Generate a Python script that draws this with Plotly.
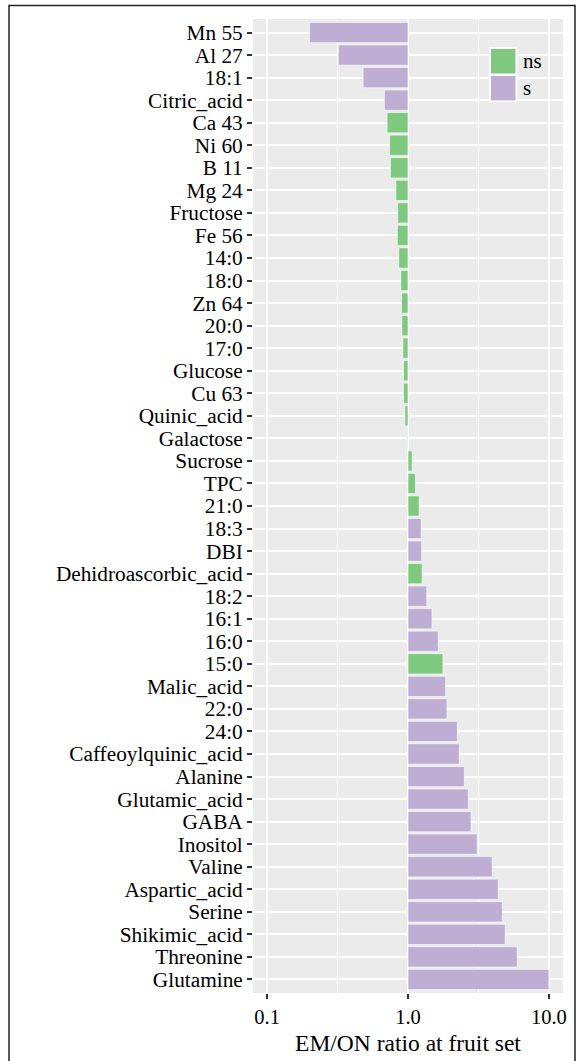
import plotly.graph_objects as go

categories = ["Mn 55", "Al 27", "18:1", "Citric_acid", "Ca 43", "Ni 60", "B 11", "Mg 24",
              "Fructose", "Fe 56", "14:0", "18:0", "Zn 64", "20:0", "17:0", "Glucose",
              "Cu 63", "Quinic_acid", "Galactose", "Sucrose", "TPC", "21:0", "18:3", "DBI",
              "Dehidroascorbic_acid", "18:2", "16:1", "16:0", "15:0", "Malic_acid", "22:0",
              "24:0", "Caffeoylquinic_acid", "Alanine", "Glutamic_acid", "GABA", "Inositol",
              "Valine", "Aspartic_acid", "Serine", "Shikimic_acid", "Threonine", "Glutamine"]
ratios = [0.20, 0.32, 0.48, 0.68, 0.71, 0.74, 0.75, 0.82,
          0.845, 0.84, 0.86, 0.89, 0.90, 0.905, 0.92, 0.93,
          0.93, 0.95, 0.99, 1.07, 1.13, 1.20, 1.24, 1.25,
          1.26, 1.36, 1.48, 1.64, 1.77, 1.85, 1.89,
          2.24, 2.31, 2.51, 2.68, 2.80, 3.10,
          3.96, 4.37, 4.67, 4.90, 5.96, 10.0]
signif = ["s", "s", "s", "s", "ns", "ns", "ns", "ns",
          "ns", "ns", "ns", "ns", "ns", "ns", "ns", "ns",
          "ns", "ns", "ns", "ns", "ns", "ns", "s", "s",
          "ns", "s", "s", "s", "ns", "s", "s",
          "s", "s", "s", "s", "s", "s",
          "s", "s", "s", "s", "s", "s"]
groups = ["ns", "s"]
group_colors = ["#7FC97F", "#BEAED4"]
x_ticks = [0.1, 1, 10]
x_ticktext = ["0.1", "1.0", "10.0"]
x_title = "EM/ON ratio at fruit set"

W, H = 576, 1061
L, R, T, B = 253, 13, 18.5, 67.5
pw, ph = W - L - R, H - T - B


def px(x):
    return (x - L) / pw


def py(y):
    return 1 - (y - T) / ph


FONT = "Liberation Serif"

fig = go.Figure()
for g, col in zip(groups, group_colors):
    ys = [c for c, s in zip(categories, signif) if s == g]
    xs = [r - 1 for r, s in zip(ratios, signif) if s == g]
    fig.add_trace(go.Bar(
        y=ys, x=xs, base=1, orientation="h", name=g, width=0.9,
        marker=dict(color=col, line=dict(color="white", width=0.6)),
        showlegend=False,
    ))

n = len(categories)
fig.update_layout(
    width=W, height=H,
    margin=dict(l=L, r=R, t=T, b=B, pad=0),
    paper_bgcolor="white", plot_bgcolor="#EBEBEB",
    barmode="overlay",
    font=dict(family=FONT, color="black", size=21),
    xaxis=dict(
        type="log", range=[-1.1, 1.1], automargin=False,
        tickmode="array", tickvals=x_ticks, ticktext=x_ticktext,
        ticks="outside", ticklen=5, tickwidth=1.5, tickcolor="#333333",
        tickfont=dict(size=20.5, color="black"),
        showgrid=True, gridcolor="white", gridwidth=1.6,
        minor=dict(tickvals=[10 ** -0.5, 10 ** 0.5], showgrid=True,
                   gridcolor="white", gridwidth=0.8, ticks=""),
        zeroline=False, showline=False,
        title=dict(text=x_title, font=dict(size=23.5, color="black"), standoff=7),
    ),
    yaxis=dict(
        type="category", categoryorder="array", categoryarray=categories,
        tickmode="array", tickvals=categories, ticktext=categories,
        range=[n - 1 + 0.6, -0.6], automargin=False,
        ticks="outside", ticklen=5, tickwidth=1.5, tickcolor="#333333",
        tickfont=dict(size=21.3, color="black"),
        showgrid=True, gridcolor="white", gridwidth=1.6,
        zeroline=False, showline=False,
    ),
)

shapes = [
    # outer border
    dict(type="rect", xref="paper", yref="paper",
         x0=px(9), x1=px(575), y0=py(1075), y1=py(5),
         line=dict(color="#222222", width=1.5), fillcolor="rgba(0,0,0,0)", layer="below"),
    # legend key frame
    dict(type="rect", xref="paper", yref="paper",
         x0=px(489), x1=px(517.5), y0=py(101.5), y1=py(46.5),
         line=dict(width=0), fillcolor="white", layer="above"),
]
key_tops = [48.5, 75.5]
for (g, col), top in zip(zip(groups, group_colors), key_tops):
    shapes.append(dict(type="rect", xref="paper", yref="paper",
                       x0=px(491), x1=px(515.5), y0=py(top + 24.5), y1=py(top),
                       line=dict(width=0), fillcolor=col, layer="above"))
fig.update_layout(shapes=shapes)

annots = []
for g, top in zip(groups, key_tops):
    annots.append(dict(text=g, xref="paper", yref="paper", x=px(520.5), y=py(top + 12),
                       xanchor="left", yanchor="middle", showarrow=False,
                       font=dict(size=21, family=FONT, color="black")))
fig.update_layout(annotations=annots)

fig.write_html("out.html")
